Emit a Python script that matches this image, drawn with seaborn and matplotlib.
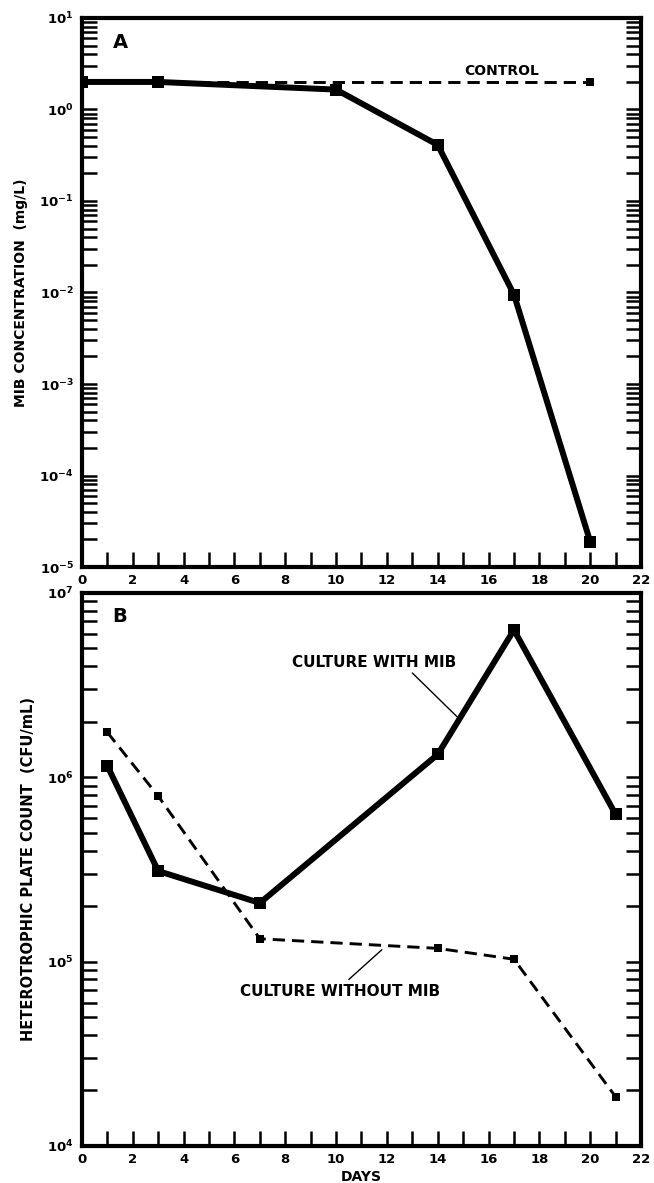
import matplotlib
matplotlib.use("Agg")
import matplotlib.pyplot as plt
import seaborn as sns
import numpy as np
from matplotlib.ticker import MultipleLocator, LogLocator, FuncFormatter, NullFormatter

# ---- data ----
a_days = [0, 3, 10, 14, 17, 20]
a_mib = [2.0, 2.0, 1.65, 0.41, 0.0095, 1.9e-5]
a_ctrl_days = [0, 20]
a_ctrl = [2.0, 2.0]

b_days = [1, 3, 7, 14, 17, 21]
b_with = [1.15e6, 3.1e5, 2.08e5, 1.33e6, 6.3e6, 6.3e5]
b_without = [1.75e6, 7.9e5, 1.33e5, 1.18e5, 1.03e5, 1.85e4]

x_ticks = list(range(0, 23, 2))

sns.set_theme(style="ticks")
plt.rcParams['font.family'] = ['DejaVu Sans']
plt.rcParams['font.weight'] = 'bold'
plt.rcParams['mathtext.default'] = 'bf'
for k in ('text.color', 'axes.labelcolor', 'xtick.color', 'ytick.color', 'axes.edgecolor'):
    plt.rcParams[k] = 'black'

fig = plt.figure(figsize=(6.54, 11.83), dpi=100)
axA = fig.add_axes([0.1254, 0.5207, 0.8547, 0.4641])
axB = fig.add_axes([0.1254, 0.0313, 0.8547, 0.4675])

thick = 4.3
thin = 2.1
dash = (0, (4.2, 2.4))

# Panel A
sns.lineplot(x=a_ctrl_days, y=a_ctrl, ax=axA, color='black', lw=thin,
             linestyle=dash, marker='s', markersize=6, markeredgewidth=0)
sns.lineplot(x=a_days, y=a_mib, ax=axA, color='black', lw=thick,
             marker='s', markersize=8.5, markeredgewidth=0)

# Panel B
sns.lineplot(x=b_days, y=b_without, ax=axB, color='black', lw=thin,
             linestyle=dash, marker='s', markersize=6, markeredgewidth=0)
sns.lineplot(x=b_days, y=b_with, ax=axB, color='black', lw=thick,
             marker='s', markersize=8.5, markeredgewidth=0)

def fmt(v, pos):
    e = int(round(np.log10(v)))
    return r'$\mathbf{10^{%d}}$' % e

for ax, ylim in ((axA, (1e-5, 1e1)), (axB, (1e4, 1e7))):
    ax.set_yscale('log')
    ax.set_ylim(*ylim)
    ax.set_xlim(0, 22)
    ax.xaxis.set_major_locator(MultipleLocator(2))
    ax.xaxis.set_minor_locator(MultipleLocator(1))
    ax.yaxis.set_major_locator(LogLocator(base=10, numticks=20))
    ax.yaxis.set_minor_locator(LogLocator(base=10, subs=np.arange(2, 10), numticks=20))
    ax.yaxis.set_major_formatter(FuncFormatter(fmt))
    ax.yaxis.set_minor_formatter(NullFormatter())
    ax.set_xticks(x_ticks)
    ax.set_xticklabels([str(t) for t in x_ticks])
    ax.tick_params(axis='both', which='both', direction='in', width=1.8,
                   length=11, right=True, top=False, labelsize=9.5, pad=5,
                   color='black', labelcolor='black')
    ax.tick_params(axis='y', which='both', pad=6)
    for s in ax.spines.values():
        s.set_linewidth(3)
        s.set_color('black')
    for lab in ax.get_xticklabels() + ax.get_yticklabels():
        lab.set_fontweight('bold')
    ax.set_xlabel('')

axA.set_ylabel('MIB CONCENTRATION  (mg/L)', fontsize=10, fontweight='bold', labelpad=8, color='black')
axB.set_ylabel('HETEROTROPHIC PLATE COUNT  (CFU/mL)', fontsize=10.5, fontweight='bold', labelpad=8, color='black')
axB.set_xlabel('DAYS', fontsize=10, fontweight='bold', labelpad=3, color='black')

axA.text(0.068, 0.956, 'A', transform=axA.transAxes, fontsize=14, fontweight='bold',
         ha='center', va='center', color='black')
axB.text(0.068, 0.957, 'B', transform=axB.transAxes, fontsize=14, fontweight='bold',
         ha='center', va='center', color='black')

axA.text(16.5, 2.65, 'CONTROL', fontsize=10, fontweight='bold', ha='center', va='center', color='black')

axB.text(11.5, 4.2e6, 'CULTURE WITH MIB', fontsize=11, fontweight='bold', ha='center', va='center', color='black')
axB.annotate('', xy=(14.76, 2.13e6), xytext=(13.0, 3.68e6),
             arrowprops=dict(arrowstyle='-', lw=1.0, color='black', shrinkA=0, shrinkB=0))

axB.text(10.16, 6.9e4, 'CULTURE WITHOUT MIB', fontsize=11, fontweight='bold', ha='center', va='center', color='black')
axB.annotate('', xy=(11.8, 1.16e5), xytext=(10.5, 8.0e4),
             arrowprops=dict(arrowstyle='-', lw=1.0, color='black', shrinkA=0, shrinkB=0))

fig.savefig('out.png', dpi=100)
